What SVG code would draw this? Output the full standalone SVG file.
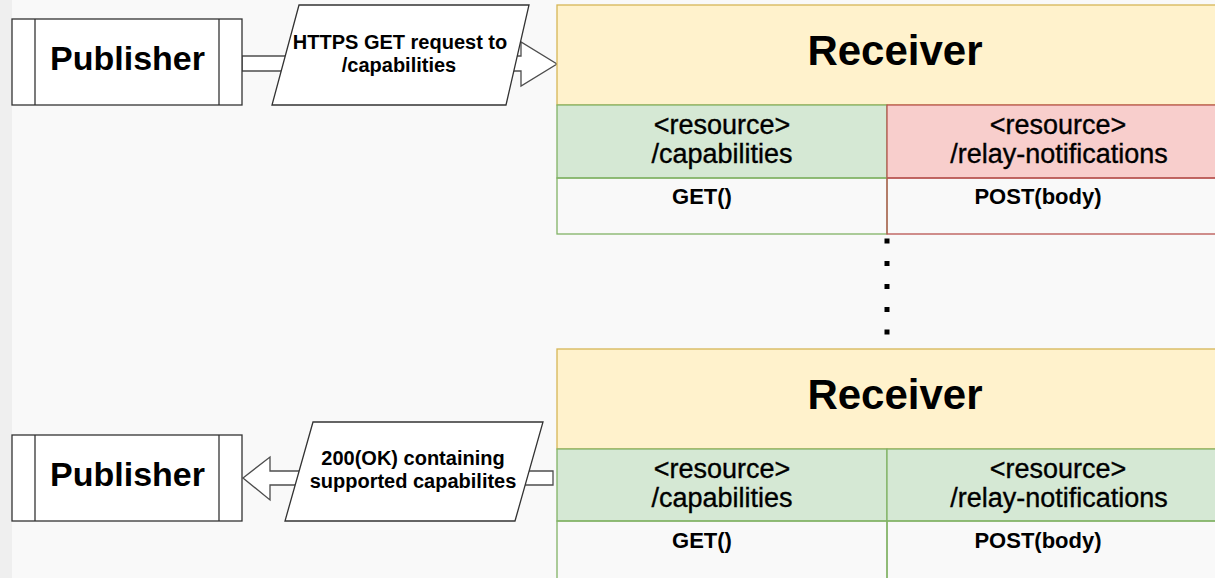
<svg xmlns="http://www.w3.org/2000/svg" width="1215" height="578" viewBox="0 0 1215 578">
<style>
.pub{fill:#ffffff;stroke:#333333;stroke-width:1.3}
.para{fill:#ffffff;stroke:#333333;stroke-width:1.3}
.arr{fill:#ffffff;stroke:#4d4d4d;stroke-width:1.3}
.hdr{fill:#fff2cc;stroke:#d6b656;stroke-width:1.3}
.grn{fill:#d5e8d4;stroke:#82b366;stroke-width:1.3}
.red{fill:#f8cecc;stroke:#b85450;stroke-width:1.3}
.bodyg{fill:none;stroke:#82b366;stroke-width:1.3}
.bodyr{fill:none;stroke:#b85450;stroke-width:1.3}
text{font-family:"Liberation Sans",Arial,Helvetica,sans-serif;fill:#000;text-anchor:middle}
.big{font-size:34px;font-weight:bold}
.rcv{font-size:42px;font-weight:bold}
.lbl{font-size:20px;font-weight:bold}
.res{font-size:27px;stroke:#000;stroke-width:0.35}
.mth{font-size:22px;font-weight:bold}
</style>
<rect x="0" y="0" width="1215" height="578" fill="#f9f9f9"/>
<rect x="0" y="0" width="12" height="578" fill="#efefef"/>

<g id="connectors">
  <polygon class="arr" points="242,56 521,56 521,42 557,64 521,86 521,71 242,71"/>
  <polygon class="arr" points="553,471 270,471 270,457 243,478 270,500 270,485 553,485"/>
</g>

<g id="publisher1">
  <rect class="pub" x="12" y="19" width="230" height="86"/>
  <line class="pub" x1="35" y1="19" x2="35" y2="105"/>
  <line class="pub" x1="219" y1="19" x2="219" y2="105"/>
  <text class="big" x="127.5" y="70">Publisher</text>
</g>

<g id="request-label">
  <polygon class="para" points="299,5 529,5 506,105 272,105"/>
  <text class="lbl" x="400" y="49">HTTPS GET request to</text>
  <text class="lbl" x="399" y="72">/capabilities</text>
</g>

<g id="receiver1">
  <rect class="hdr" x="557" y="5" width="670" height="100"/>
  <text class="rcv" x="895" y="65">Receiver</text>
  <rect class="grn" x="557" y="105" width="330" height="73"/>
  <rect class="red" x="887" y="105" width="340" height="73"/>
  <text class="res" x="722" y="134">&lt;resource&gt;</text>
  <text class="res" x="722" y="163">/capabilities</text>
  <text class="res" x="1058" y="134">&lt;resource&gt;</text>
  <text class="res" x="1059" y="163">/relay-notifications</text>
  <rect class="bodyg" x="557" y="178" width="330" height="56"/>
  <rect class="bodyr" x="887" y="178" width="340" height="56"/>
  <text class="mth" x="702" y="204">GET()</text>
  <text class="mth" x="1038" y="204">POST(body)</text>
</g>

<g id="ellipsis">
  <rect x="884.5" y="238.5" width="5" height="5" fill="#000"/>
  <rect x="884.5" y="261" width="5" height="5" fill="#000"/>
  <rect x="884.5" y="284" width="5" height="5" fill="#000"/>
  <rect x="884.5" y="307" width="5" height="5" fill="#000"/>
  <rect x="884.5" y="329.5" width="5" height="5" fill="#000"/>
</g>

<g id="receiver2">
  <rect class="hdr" x="557" y="349" width="670" height="100"/>
  <text class="rcv" x="895" y="409">Receiver</text>
  <rect class="grn" x="557" y="449" width="330" height="72"/>
  <rect class="grn" x="887" y="449" width="340" height="72"/>
  <text class="res" x="722" y="478">&lt;resource&gt;</text>
  <text class="res" x="722" y="507">/capabilities</text>
  <text class="res" x="1058" y="478">&lt;resource&gt;</text>
  <text class="res" x="1059" y="507">/relay-notifications</text>
  <rect class="bodyg" x="557" y="521" width="330" height="60"/>
  <rect class="bodyg" x="887" y="521" width="340" height="60"/>
  <text class="mth" x="702" y="548">GET()</text>
  <text class="mth" x="1038" y="548">POST(body)</text>
</g>

<g id="response-label">
  <polygon class="para" points="313,422 543,422 515,521 285,521"/>
  <text class="lbl" x="413" y="465">200(OK) containing</text>
  <text class="lbl" x="413" y="488">supported capabilites</text>
</g>

<g id="publisher2">
  <rect class="pub" x="12" y="435" width="230" height="86"/>
  <line class="pub" x1="35" y1="435" x2="35" y2="521"/>
  <line class="pub" x1="219" y1="435" x2="219" y2="521"/>
  <text class="big" x="127.5" y="486">Publisher</text>
</g>
</svg>
